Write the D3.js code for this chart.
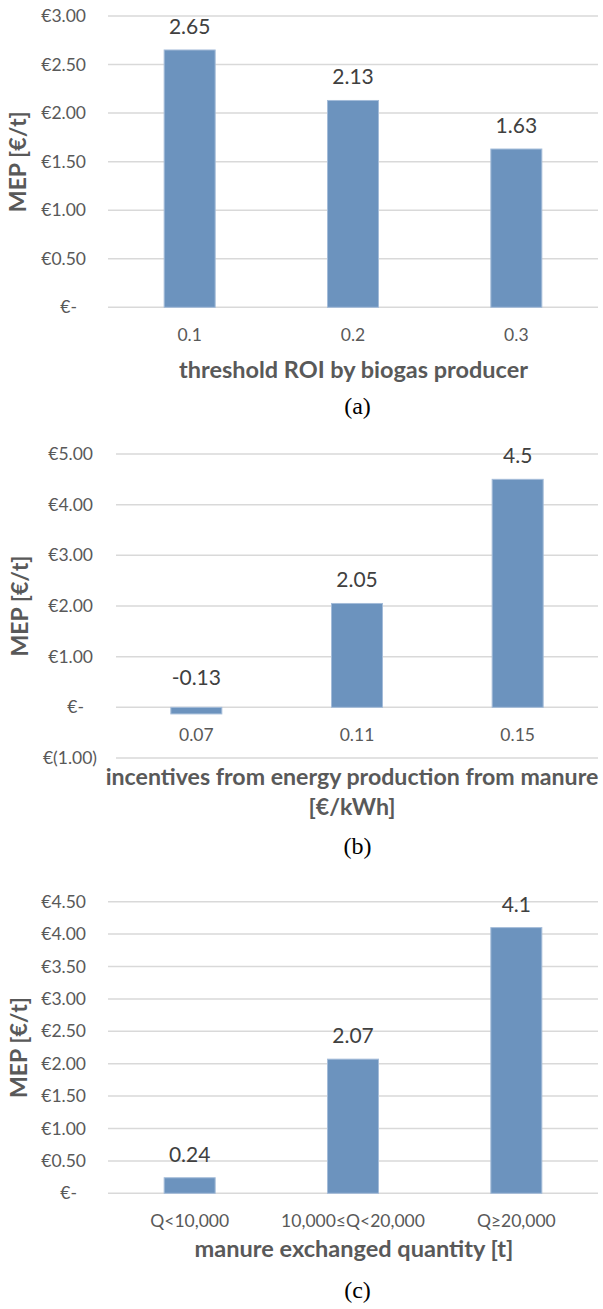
<!DOCTYPE html>
<html>
<head>
<meta charset="utf-8">
<script src="https://cdnjs.cloudflare.com/ajax/libs/d3/7.8.5/d3.min.js"></script>
<style>
  body { margin: 0; background: #fff; }
  svg { display: block; }
  .tick-label { font-family: Lato, "Open Sans", sans-serif; font-size: 17.5px; fill: #595959; }
  .data-label { font-family: Lato, "Open Sans", sans-serif; font-size: 21px; fill: #404040; }
  .axis-title { font-family: Lato, "Open Sans", sans-serif; font-size: 20px; font-weight: bold; fill: #595959; }
  .caption { font-family: "Liberation Serif", "Times New Roman", serif; font-size: 24px; fill: #000; }
</style>
</head>
<body>
<svg id="chart" width="603" height="1309"></svg>
<script>
// panel (a)
var roiCats = ['0.1', '0.2', '0.3'];
var roiValues = [2.65, 2.13, 1.63];
var roiTicks = [0, 0.5, 1, 1.5, 2, 2.5, 3];

// panel (b)
var incentiveCats = ['0.07', '0.11', '0.15'];
var incentiveValues = [-0.13, 2.05, 4.5];
var incentiveTicks = [-1, 0, 1, 2, 3, 4, 5];

// panel (c)
var qtyCats = ['Q<10,000', '10,000≤Q<20,000', 'Q≥20,000'];
var qtyValues = [0.24, 2.07, 4.1];
var qtyTicks = [0, 0.5, 1, 1.5, 2, 2.5, 3, 3.5, 4, 4.5];

var yTitle = 'MEP [€/t]';

function euroFormat(v) {
  if (v == 0) return '€-';
  if (v < 0) return '€(' + Math.abs(v).toFixed(2) + ')';
  return '€' + v.toFixed(2);
}

function labelFormat(v) {
  return String(v);
}

// scale font so the text takes the width it has in the original figure
function fitWidth(sel, target) {
  var w = sel.node().getComputedTextLength();
  var fs = parseFloat(sel.style('font-size'));
  var size = fs * target / w;
  sel.style('font-size', size + 'px');
  return size;
}

var svg = d3.select('#chart');

function drawPanel(opt) {
  var g = svg.append('g');
  var x = d3.scaleBand().domain(opt.cats).range(opt.xRange).paddingInner(0).paddingOuter(0);
  var y = d3.scaleLinear().domain(d3.extent(opt.ticks)).range(opt.yRange);
  var barW = 51;

  // gridlines
  g.selectAll('line.grid')
    .data(opt.ticks)
    .enter().append('line')
    .attr('x1', opt.xRange[0]).attr('x2', opt.xRange[1])
    .attr('y1', function(d) { return y(d); })
    .attr('y2', function(d) { return y(d); })
    .attr('stroke', '#d9d9d9')
    .attr('stroke-width', 1.5);

  // y tick labels (accounting style: zero sits further left)
  g.selectAll('text.ytick')
    .data(opt.ticks)
    .enter().append('text')
    .attr('class', 'tick-label')
    .attr('text-anchor', 'end')
    .attr('x', function(d) { return opt.labelRight - (d == 0 ? 9 : (d < 0 ? -4 : 0)); })
    .attr('y', function(d) { return y(d); })
    .attr('dy', '0.35em')
    .text(euroFormat);

  // bars
  g.selectAll('rect.bar')
    .data(opt.values)
    .enter().append('rect')
    .attr('x', function(d, i) { return x(opt.cats[i]) + x.bandwidth() / 2 - barW / 2; })
    .attr('width', barW)
    .attr('y', function(d) { return y(Math.max(d, 0)); })
    .attr('height', function(d) { return Math.abs(y(d) - y(0)); })
    .attr('fill', '#6c93be')
    .attr('stroke', '#a4bcd9')
    .attr('stroke-width', 1);

  // data labels
  g.selectAll('text.dlabel')
    .data(opt.values)
    .enter().append('text')
    .attr('class', 'data-label')
    .attr('text-anchor', 'middle')
    .attr('x', function(d, i) { return x(opt.cats[i]) + x.bandwidth() / 2; })
    .attr('y', function(d) { return y(Math.abs(d)) - 16; })
    .text(labelFormat);

  // x tick labels
  g.selectAll('text.xtick')
    .data(opt.cats)
    .enter().append('text')
    .attr('class', 'tick-label')
    .attr('text-anchor', 'middle')
    .attr('x', function(d) { return x(d) + x.bandwidth() / 2; })
    .attr('y', y(0) + 28)
    .attr('dy', '0.35em')
    .text(function(d) { return d; });

  // y axis title
  var yt = g.append('text')
    .attr('class', 'axis-title')
    .attr('text-anchor', 'middle')
    .attr('transform', 'translate(' + opt.yTitleX + ',' + ((opt.yRange[0] + opt.yRange[1]) / 2) + ') rotate(-90)')
    .attr('dy', '0.35em')
    .text(yTitle);
  fitWidth(yt, 101);

  // x axis title (may be multi-line)
  var size = null;
  opt.xTitle.forEach(function(line, i) {
    var t = g.append('text')
      .attr('class', 'axis-title')
      .attr('text-anchor', 'middle')
      .attr('x', opt.xTitleX)
      .attr('y', opt.xTitleY + i * 30)
      .text(line);
    if (i == 0) size = fitWidth(t, opt.xTitleW);
    else t.style('font-size', size + 'px');
  });

  // caption
  g.append('text')
    .attr('class', 'caption')
    .attr('text-anchor', 'middle')
    .attr('x', 357.5)
    .attr('y', opt.captionY)
    .text(opt.caption);
}

drawPanel({
  cats: roiCats, values: roiValues, ticks: roiTicks,
  xRange: [108, 598], yRange: [307.3, 16],
  labelRight: 86, yTitleX: 18,
  xTitle: ['threshold ROI by biogas producer'], xTitleX: 353.5, xTitleY: 377.7, xTitleW: 349,
  caption: '(a)', captionY: 414
});

drawPanel({
  cats: incentiveCats, values: incentiveValues, ticks: incentiveTicks,
  xRange: [116, 598], yRange: [758, 454],
  labelRight: 93, yTitleX: 20,
  xTitle: ['incentives from energy production from manure', '[€/kWh]'], xTitleX: 352, xTitleY: 785, xTitleW: 493,
  caption: '(b)', captionY: 854
});

drawPanel({
  cats: qtyCats, values: qtyValues, ticks: qtyTicks,
  xRange: [108, 598], yRange: [1193.3, 901.7],
  labelRight: 86, yTitleX: 19.3,
  xTitle: ['manure exchanged quantity [t]'], xTitleX: 354, xTitleY: 1256.5, xTitleW: 319,
  caption: '(c)', captionY: 1298
});
</script>
</body>
</html>
